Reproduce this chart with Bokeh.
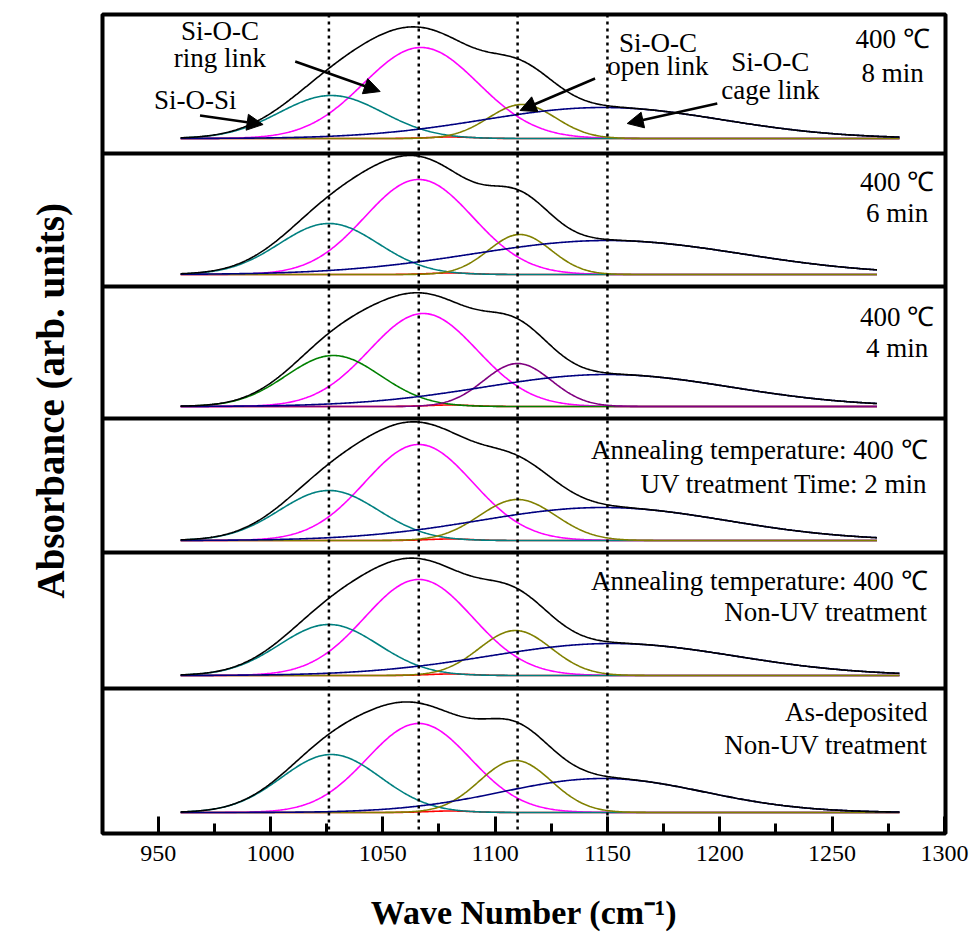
import numpy as np
from bokeh.plotting import figure
from bokeh.models import Span, Arrow, NormalHead, Label, SingleIntervalTicker, Title
from bokeh.embed import file_html
from bokeh.resources import INLINE

# ---------------- data ----------------
# panels from top to bottom
samples = ["400 C 8 min", "400 C 6 min", "400 C 4 min", "400 C UV 2 min", "400 C Non-UV", "As-deposited"]
x_start = [960, 960, 960, 960, 960, 960]
x_end = [1280, 1270, 1270, 1270, 1280, 1280]

# Si-O-Si component
sioSi_center = [1027, 1026, 1028, 1026, 1026, 1027]
sioSi_amp = [43, 51, 51, 50, 51, 58]
sioSi_sigma = [23, 22, 21, 22, 22, 22]
# Si-O-C ring link
ring_center = [1067, 1066, 1068, 1066, 1066, 1066]
ring_amp = [91, 95, 93, 96, 96, 89]
ring_sigma = [25.5, 24, 24, 24, 24, 23]
# Si-O-C open link
open_center = [1112, 1111, 1110, 1110, 1109, 1109]
open_amp = [34, 40, 43, 41, 45, 52]
open_sigma = [15, 14, 15, 17, 16, 16]
# Si-O-C cage link
cage_center = [1148, 1150, 1150, 1148, 1152, 1148]
cage_amp = [31, 34, 32, 33, 32, 34]
cage_sigma = [53, 60, 55, 55, 55, 45]
# small residual component
minor_center = [1080, 1080, 1080, 1080, 1080, 1080]
minor_amp = [1.5, 1.5, 1.5, 1.5, 1.5, 1.5]
minor_sigma = [10, 10, 10, 10, 10, 10]

peak_positions = [1026, 1066, 1110, 1150]
x_ticks_major = 50

panel_notes = [
    ["400 \u2103", "8 min"],
    ["400 \u2103", "6 min"],
    ["400 \u2103", "4 min"],
    ["Annealing temperature: 400 \u2103", "UV treatment Time: 2 min"],
    ["Annealing temperature: 400 \u2103", "Non-UV treatment"],
    ["As-deposited", "Non-UV treatment"],
]

# ---------------- layout constants ----------------
baselines = [695, 559, 427, 293, 158, 21]
separators = [680, 547, 415, 281, 145]
siosi_colors = ["#008080", "#008080", "#008000", "#008080", "#008080", "#008080"]
open_colors = ["#808000", "#808000", "#800080", "#808000", "#808000", "#808000"]

SERIF = "Liberation Serif"

p = figure(width=978, height=945, x_range=(925.2, 1300.5), y_range=(0, 819),
           output_backend="svg", toolbar_location=None, y_axis_location=None,
           min_border_left=102, min_border_right=33, min_border_top=14, min_border_bottom=112)
p.background_fill_color = "white"
p.border_fill_color = "white"
p.outline_line_color = "black"
p.outline_line_width = 4
p.xgrid.visible = False
p.ygrid.visible = False

# x axis
p.xaxis.ticker = SingleIntervalTicker(interval=x_ticks_major, num_minor_ticks=2)
p.xaxis.axis_line_color = None
p.xaxis.major_tick_in = 17
p.xaxis.major_tick_out = 0
p.xaxis.minor_tick_in = 10
p.xaxis.minor_tick_out = 0
p.xaxis.major_tick_line_width = 3
p.xaxis.minor_tick_line_width = 3
p.xaxis.major_tick_line_color = "black"
p.xaxis.minor_tick_line_color = "black"
p.xaxis.major_label_text_font = SERIF
p.xaxis.major_label_text_font_size = "24px"
p.xaxis.major_label_text_color = "black"
p.xaxis.major_label_standoff = 12
p.xaxis.axis_label = "Wave Number (cm\u207b\u00b9)"
p.xaxis.axis_label_text_font = SERIF
p.xaxis.axis_label_text_font_style = "bold"
p.xaxis.axis_label_text_font_size = "34px"
p.xaxis.axis_label_text_color = "black"
p.xaxis.axis_label_standoff = 30

# y label as a side title (allows shifting along the frame)
ytitle = Title(text="Absorbance (arb. units)", text_font=SERIF, text_font_style="bold",
               text_font_size="39px", text_color="black", align="left", offset=235,
               standoff=57, vertical_align="top")
p.add_layout(ytitle, "left")

# panel separators
for s in separators:
    p.add_layout(Span(location=s, dimension="width", line_color="black", line_width=4))

def gauss(x, c, a, s):
    return a * np.exp(-((x - c) ** 2) / (2.0 * s ** 2))

for i in range(6):
    x = np.linspace(x_start[i], x_end[i], 600)
    b = baselines[i]
    comps = [
        (gauss(x, minor_center[i], minor_amp[i], minor_sigma[i]), "#FF0000"),
        (gauss(x, ring_center[i], ring_amp[i], ring_sigma[i]), "#FF00FF"),
        (gauss(x, sioSi_center[i], sioSi_amp[i], sioSi_sigma[i]), siosi_colors[i]),
        (gauss(x, open_center[i], open_amp[i], open_sigma[i]), open_colors[i]),
        (gauss(x, cage_center[i], cage_amp[i], cage_sigma[i]), "#000080"),
    ]
    total = np.zeros_like(x)
    for yv, col in comps:
        total += yv
        p.line(x, yv + b, line_color=col, line_width=1.6)
    p.line(x, total + b, line_color="black", line_width=1.6)

# dotted peak-position lines
for loc in peak_positions:
    p.add_layout(Span(location=loc, dimension="height", line_color="black",
                      line_width=2.5, line_dash="3 4"))

def add_text(x, y, t, align="center"):
    p.add_layout(Label(x=x, y=y, text=t, text_font=SERIF, text_font_size="27px",
                       text_align=align, text_baseline="middle", text_color="black"))

# panel notes
note_centers = [(1277, 795, 761), (1279, 652, 621), (1279, 517, 486)]
for i, (xc, y1, y2) in enumerate(note_centers):
    add_text(xc, y1, panel_notes[i][0])
    add_text(xc, y2, panel_notes[i][1])
note_right = [(1292.5, 384, 350), (1292.5, 253, 222), (1292.5, 122, 89)]
for j, (xr, y1, y2) in enumerate(note_right):
    add_text(xr, y1, panel_notes[3 + j][0], "right")
    add_text(xr, y2, panel_notes[3 + j][1], "right")

# component labels (top panel)
add_text(977.5, 803, "Si-O-C")
add_text(977.5, 776, "ring link")
add_text(966.5, 734, "Si-O-Si")
add_text(1172.5, 791, "Si-O-C")
add_text(1172.5, 768, "open link")
add_text(1222.5, 772, "Si-O-C")
add_text(1222.5, 744, "cage link")

arrows = [
    (968.6, 718, 996.7, 709),
    (1011.0, 772, 1048.8, 742),
    (1144.5, 755, 1111.1, 723),
    (1198.9, 730, 1158.8, 710),
]
for xs, ys, xe, ye in arrows:
    p.add_layout(Arrow(end=NormalHead(size=16, fill_color="black", line_color="black", line_width=1),
                       x_start=xs, y_start=ys, x_end=xe, y_end=ye,
                       line_color="black", line_width=2.5))

open("out.html", "w").write(file_html(p, INLINE))
